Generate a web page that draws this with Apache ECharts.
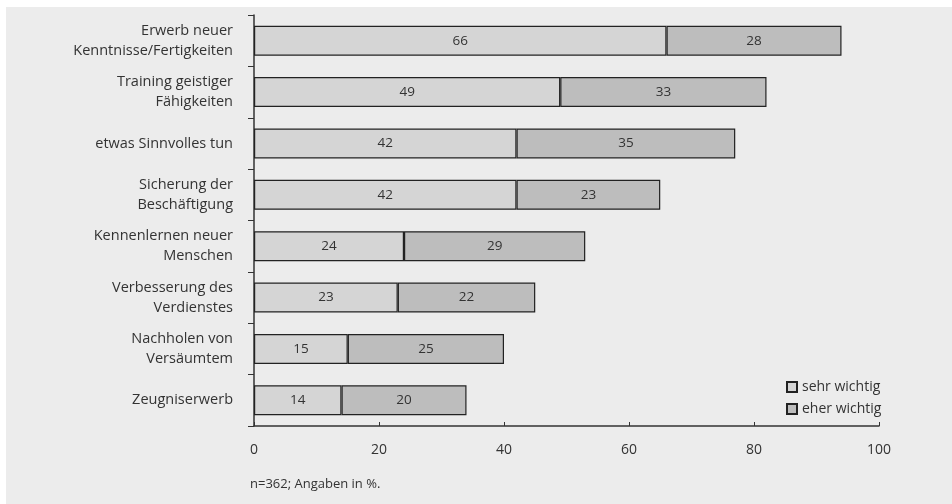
<!DOCTYPE html>
<html><head><meta charset="utf-8">
<script src="https://cdn.jsdelivr.net/npm/echarts@6/dist/echarts.min.js"></script>
<style>
html,body{margin:0;padding:0;background:#fff;}
#wrap{position:absolute;left:6px;top:7px;width:946px;height:497px;background:#ececec;}
#c{position:absolute;left:0;top:0;width:952px;height:504px;}
</style></head>
<body><div id="wrap"></div><div id="c"></div>
<script>
const categories = ["Erwerb neuer\nKenntnisse/Fertigkeiten","Training geistiger\nFähigkeiten","etwas Sinnvolles tun","Sicherung der\nBeschäftigung","Kennenlernen neuer\nMenschen","Verbesserung des\nVerdienstes","Nachholen von\nVersäumtem","Zeugniserwerb"];
const sehrWichtig = [66,49,42,42,24,23,15,14];
const eherWichtig = [28,33,35,23,29,22,25,20];
const seriesNames = ["sehr wichtig","eher wichtig"];
const xTicks = [0,20,40,60,80,100];
const footer = "n=362; Angaben in %.";

const font = "'Open Sans', 'Noto Sans', sans-serif";
const chart = echarts.init(document.getElementById('c'), null, {renderer:'canvas'});
const lbl = {show:true, position:'inside', color:'#333', fontSize:13.5, fontFamily:font};
chart.setOption({
  animation:false,
  backgroundColor:'transparent',
  textStyle:{fontFamily:font},
  grid:{left:254, right:73, top:15, bottom:78, containLabel:false},
  xAxis:{type:'value', min:xTicks[0], max:xTicks[xTicks.length-1], interval:20,
    axisLine:{show:true, lineStyle:{color:'#333', width:1.5}},
    axisTick:{show:true, inside:true, length:4, lineStyle:{color:'#333'}},
    splitLine:{show:false},
    axisLabel:{color:'#333', fontSize:14, margin:17, fontFamily:font}},
  yAxis:{type:'category', data:categories, inverse:true,
    axisLine:{show:true, lineStyle:{color:'#333', width:1.5}},
    axisTick:{show:true, length:6, lineStyle:{color:'#333'}},
    axisLabel:{color:'#333', fontSize:14.5, lineHeight:20, margin:21, align:'right', fontFamily:font}},
  legend:{orient:'vertical', left:781, top:375, itemWidth:10, itemHeight:10, itemGap:8,
    icon:'rect', textStyle:{color:'#333', fontSize:14, fontFamily:font}, data:seriesNames},
  graphic:[{type:'text', left:250, top:478, style:{text:footer, fill:'#333', font:"13px "+font}}],
  series:[
    {name:seriesNames[0], type:'bar', stack:'a', data:sehrWichtig, barWidth:30,
     itemStyle:{color:'#d5d5d5', borderColor:'#222', borderWidth:1.2}, label:lbl},
    {name:seriesNames[1], type:'bar', stack:'a', data:eherWichtig, barWidth:30,
     itemStyle:{color:'#bdbdbd', borderColor:'#222', borderWidth:1.2}, label:lbl}
  ]
});
</script></body></html>
